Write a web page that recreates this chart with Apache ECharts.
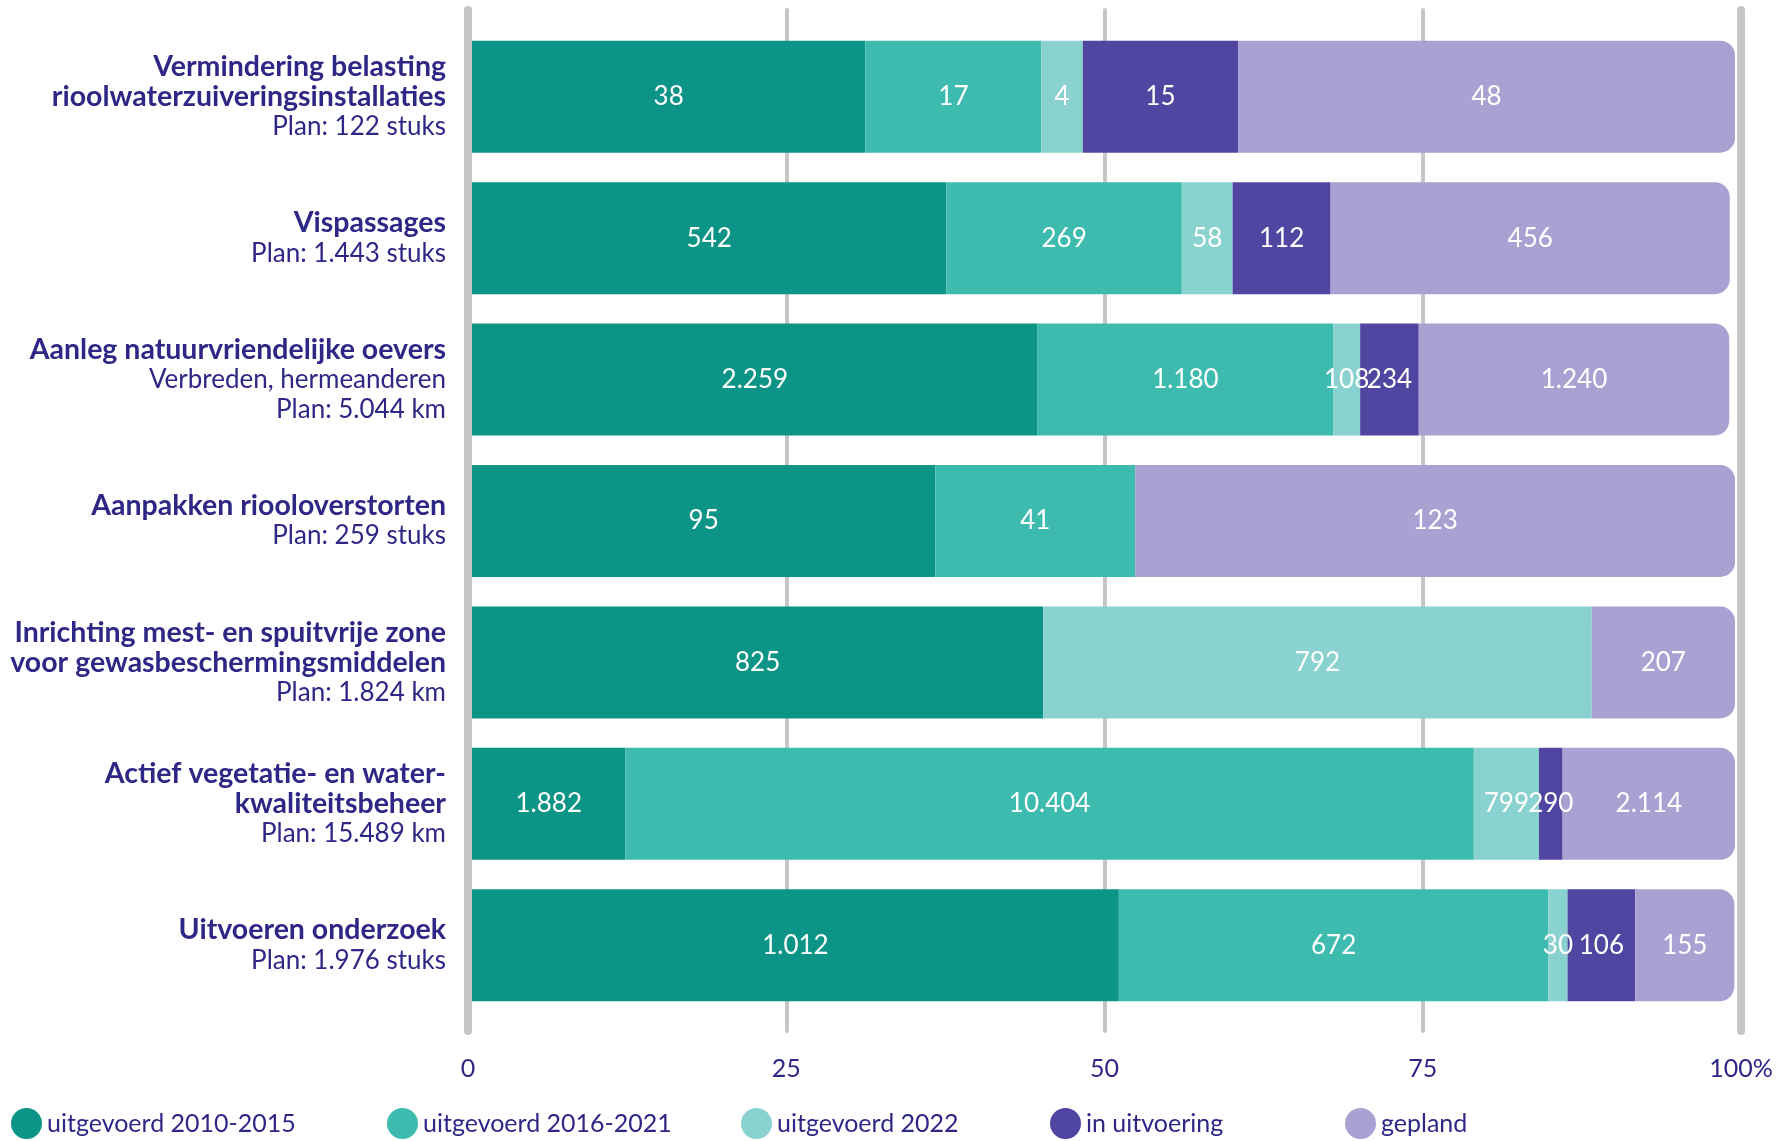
<!DOCTYPE html>
<html>
<head>
<meta charset="utf-8">
<title>Voortgang maatregelen</title>
<script src="https://cdn.jsdelivr.net/npm/echarts@6/dist/echarts.min.js"></script>
<style>
  html, body { margin: 0; padding: 0; background: #fff; }
  #chart { width: 1780px; height: 1141px; }
</style>
</head>
<body>
<div id="chart"></div>
<script>
// categorieen (van boven naar onder)
const categories = [
  'Vermindering belasting\nrioolwaterzuiveringsinstallaties',
  'Vispassages',
  'Aanleg natuurvriendelijke oevers',
  'Aanpakken riooloverstorten',
  'Inrichting mest- en spuitvrije zone\nvoor gewasbeschermingsmiddelen',
  'Actief vegetatie- en water-\nkwaliteitsbeheer',
  'Uitvoeren onderzoek'
]
const subLines = ['', '', 'Verbreden, hermeanderen', '', '', '', '']
const planTotals = [122, 1443, 5044, 259, 1824, 15489, 1976]
const planUnits = ['stuks', 'stuks', 'km', 'stuks', 'km', 'km', 'stuks']

// reeksen
const seriesNames = ['uitgevoerd 2010-2015', 'uitgevoerd 2016-2021', 'uitgevoerd 2022', 'in uitvoering', 'gepland']
const uitgevoerd2010 = [38, 542, 2259, 95, 825, 1882, 1012]
const uitgevoerd2016 = [17, 269, 1180, 41, null, 10404, 672]
const uitgevoerd2022 = [4, 58, 108, null, 792, 799, 30]
const inUitvoering = [15, 112, 234, null, null, 290, 106]
const gepland = [48, 456, 1240, 123, 207, 2114, 155]
const seriesColors = ['#0C9587', '#3DBBAF', '#89D2CF', '#5045A1', '#A9A1D2']

// x-as
const xTicks = [0, 25, 50, 75, 100]

const textColor = '#2E2785'
const gridColor = '#C6C6C6'
const font = 'Lato, "Open Sans", sans-serif'

// 1.443 i.p.v. 1443
function fmt(n) {
  return String(n).replace(/\B(?=(\d{3})+(?!\d))/g, '.')
}

const allValues = [uitgevoerd2010, uitgevoerd2016, uitgevoerd2022, inUitvoering, gepland]

const chartInstance = echarts.init(document.getElementById('chart'))

const series = allValues.map((values, si) => ({
  name: seriesNames[si],
  type: 'bar',
  stack: 'totaal',
  xAxisIndex: 0,
  yAxisIndex: 0,
  barWidth: 112,
  // percentage van het plan, ruwe waarde voor het label
  data: values.map((v, i) => (v == null ? null : { value: (v / planTotals[i]) * 100, raw: v })),
  itemStyle: {
    color: seriesColors[si],
    borderRadius: si === allValues.length - 1 ? [0, 15, 15, 0] : 0
  },
  label: {
    show: true,
    position: 'inside',
    color: '#fff',
    fontFamily: font,
    fontSize: 26,
    textBorderWidth: 0,
    formatter: (p) => (p.data && p.data.raw != null ? fmt(p.data.raw) : '')
  },
  emphasis: { disabled: true },
  z: 3
}))

const legends = seriesNames.map((name, i) => ({
  data: [name],
  left: [11, 387, 741, 1050, 1345][i],
  top: 1108,
  padding: 0,
  icon: 'circle',
  itemWidth: 31,
  itemHeight: 31,
  selectedMode: false,
  textStyle: { color: textColor, fontFamily: font, fontSize: 25 }
}))

const option = {
  backgroundColor: '#fff',
  animation: false,
  legend: legends,
  grid: [
    // balken
    { left: 472, width: 1263, top: 26, height: 990 },
    // rasterlijnen 25/50/75 + labels
    { left: 468, width: 1273, top: 10, height: 1021 },
    // dikke lijnen op 0 en 100
    { left: 468, width: 1273, top: 10, height: 1021 }
  ],
  xAxis: [
    {
      gridIndex: 0, type: 'value', min: 0, max: 100,
      show: false, splitLine: { show: false }
    },
    {
      gridIndex: 1, type: 'value', min: xTicks[0], max: xTicks[xTicks.length - 1], interval: 25,
      axisLine: { show: false },
      axisTick: { show: false },
      splitLine: { show: true, lineStyle: { color: gridColor, width: 4, cap: 'round' } },
      axisLabel: {
        margin: 25,
        color: textColor,
        fontFamily: font,
        fontSize: 25,
        formatter: (v) => (v === 100 ? '100%' : String(v))
      }
    },
    {
      gridIndex: 2, type: 'value', min: 0, max: 100, interval: 100,
      axisLine: { show: false },
      axisTick: { show: false },
      axisLabel: { show: false },
      splitLine: { show: true, lineStyle: { color: gridColor, width: 8, cap: 'round' } }
    }
  ],
  yAxis: [
    {
      gridIndex: 0,
      type: 'category',
      inverse: true,
      data: categories,
      axisLine: { show: false },
      axisTick: { show: false },
      axisLabel: {
        margin: 26,
        formatter: (value, idx) => {
          const lines = value.split('\n').map((l) => '{b|' + l + '}')
          if (subLines[idx]) lines.push('{r|' + subLines[idx] + '}')
          lines.push('{r|Plan: ' + fmt(planTotals[idx]) + ' ' + planUnits[idx] + '}')
          return lines.join('\n')
        },
        rich: {
          b: { color: textColor, fontFamily: font, fontWeight: 'bold', fontSize: 28.5, lineHeight: 30, align: 'right' },
          r: { color: textColor, fontFamily: font, fontSize: 26, lineHeight: 30, align: 'right' }
        }
      }
    },
    { gridIndex: 1, type: 'value', show: false },
    { gridIndex: 2, type: 'value', show: false }
  ],
  series: series
}

chartInstance.setOption(option)
</script>
</body>
</html>
